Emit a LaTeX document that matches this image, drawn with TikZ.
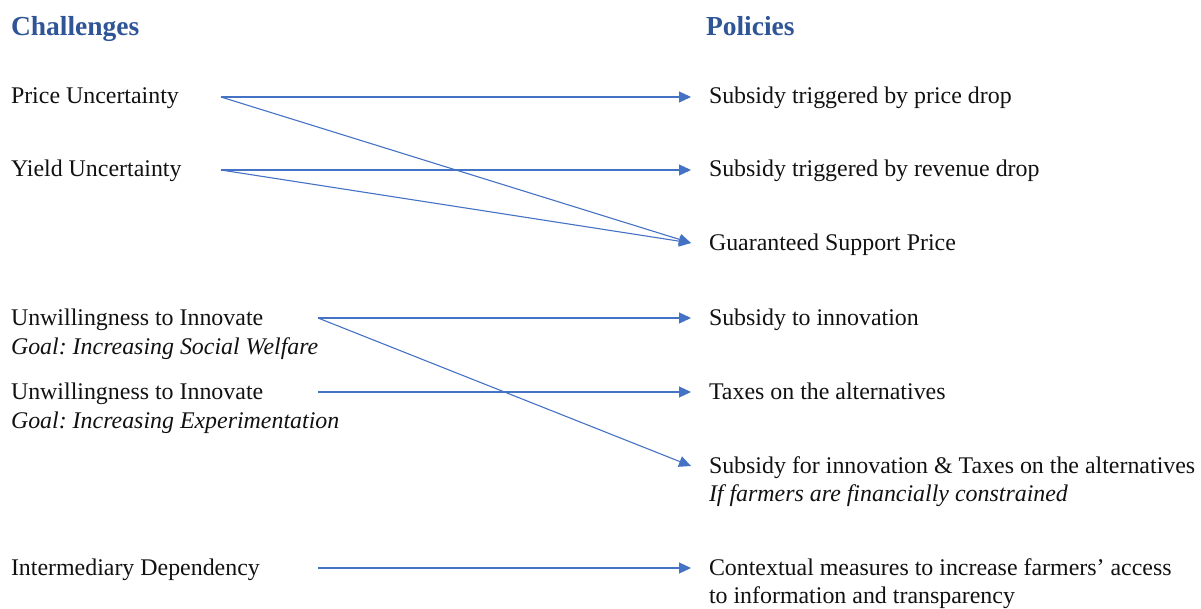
\documentclass[tikz,border=0pt]{standalone}
\usepackage{fontspec}
\setmainfont{Liberation Serif}
\usetikzlibrary{arrows.meta}
\definecolor{headblue}{HTML}{2F5597}
\definecolor{linkblue}{HTML}{4472C4}
\definecolor{ink}{HTML}{111111}
\begin{document}
\begin{tikzpicture}[x=1pt,y=-1pt,
  every node/.style={inner sep=0pt,outer sep=0pt,anchor=base west,text=ink},
  head/.style={font=\fontsize{27.5}{32}\selectfont\bfseries,text=headblue},
  item/.style={font=\fontsize{23.9}{28}\selectfont},
  note/.style={font=\fontsize{23.9}{28}\selectfont\itshape},
  link/.style={draw=linkblue,line width=1.1pt,-{Triangle[length=12pt,width=11pt]}}]
\useasboundingbox (0,0) rectangle (1201,608);

% column headings
\node[head] (hc) at (11,35) {Challenges};
\node[head] (hp) at (706,35) {Policies};

% challenges
\node[item] (c1) at (11,103) {Price Uncertainty};
\node[item] (c2) at (11,176) {Yield Uncertainty};
\node[item] (c3) at (11,325) {Unwillingness to Innovate};
\node[note] (c3g) at (11,354) {Goal:\ Increasing Social Welfare};
\node[item] (c4) at (11,399) {Unwillingness to Innovate};
\node[note] (c4g) at (11,428) {Goal:\ Increasing Experimentation};
\node[item] (c5) at (11,575) {Intermediary Dependency};

% policies
\node[item] (p1) at (709,103) {Subsidy triggered by price drop};
\node[item] (p2) at (709,176) {Subsidy triggered by revenue drop};
\node[item] (p3) at (709,250) {Guaranteed Support Price};
\node[item] (p4) at (709,325) {Subsidy to innovation};
\node[item] (p5) at (709,399) {Taxes on the alternatives};
\node[item] (p6) at (709,473) {Subsidy for innovation \& Taxes on the alternatives};
\node[note] (p6n) at (709,501) {If farmers are financially constrained};
\node[item] (p7) at (709,575) {Contextual measures to increase farmers’ access};
\node[item] (p7b) at (709,603) {to information and transparency};

% connector ports
\coordinate (o1) at (221,97);
\coordinate (o2) at (221,170);
\coordinate (o3) at (318,318);
\coordinate (o4) at (318,392);
\coordinate (o5) at (318,568);
\coordinate (i1) at (691,97);
\coordinate (i2) at (691,170);
\coordinate (i3) at (691,243);
\coordinate (i4) at (691,318);
\coordinate (i5) at (691,392);
\coordinate (i6) at (691,466);
\coordinate (i7) at (691,568);

% links
\draw[link] (o1) -- (i1);
\draw[link] (o1) -- (i3);
\draw[link] (o2) -- (i2);
\draw[link] (o2) -- (i3);
\draw[link] (o3) -- (i4);
\draw[link] (o3) -- (i6);
\draw[link] (o4) -- (i5);
\draw[link] (o5) -- (i7);
\end{tikzpicture}
\end{document}
